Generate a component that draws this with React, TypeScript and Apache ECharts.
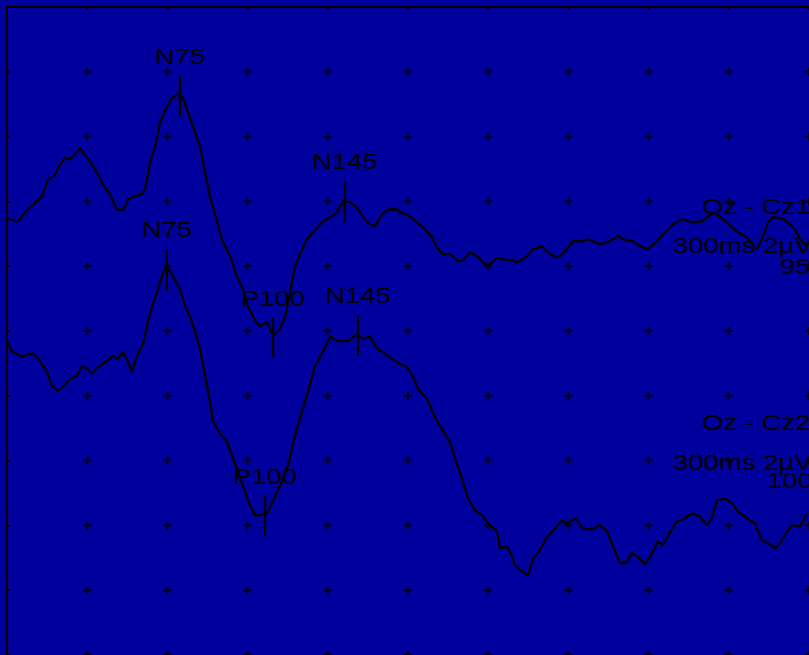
import React, { useEffect, useRef } from "react";
import * as echarts from "echarts";

// Time axis (ms) and amplitude axis (µV), 10 divisions each
const timeTicks = [0, 30, 60, 90, 120, 150, 180, 210, 240, 270, 300];
const gridTimes = [30, 60, 90, 120, 150, 180, 210, 240, 270, 300];
const gridAmps = [-10, -8, -6, -4, -2, 0, 2, 4, 6, 8];

// Trace 1 : Oz - Cz1
const trace1Time = [0, 1.1, 3.7, 4.9, 6.7, 8.6, 11.2, 13.1, 15.0, 18.0, 19.1, 21.7, 23.6, 27.3, 30.3, 33.7, 35.9, 38.5, 41.1, 43.4, 45.3, 47.1, 50.5, 51.6, 53.5, 55.4, 57.2, 59.8, 61.7, 63.6, 65.8, 67.7, 69.6, 72.2, 74.1, 75.9, 77.8, 80.4, 83.4, 86.0, 88.3, 90.1, 92.8, 94.6, 97.3, 99.5, 102.1, 104.0, 105.9, 107.7, 109.6, 112.2, 114.5, 117.8, 120.8, 123.4, 125.7, 128.3, 130.9, 133.2, 135.8, 137.7, 140.3, 142.5, 146.3, 147.0, 149.6, 151.9, 155.6, 159.0, 160.8, 163.1, 165.7, 168.7, 170.6, 173.2, 175.8, 178.1, 179.9, 183.3, 185.5, 188.9, 191.1, 194.5, 196.8, 200.1, 202.4, 205.0, 206.9, 209.5, 211.7, 215.1, 217.3, 221.8, 225.6, 228.5, 230.4, 234.2, 236.0, 239.8, 243.1, 245.4, 248.0, 249.9, 252.9, 256.2, 260.0, 262.2, 264.8, 267.8, 271.2, 273.4, 276.8, 280.5, 282.8, 284.7, 286.5, 289.9, 292.1, 294.8, 296.6, 299.3];
const trace1Amp = [3.51, 3.45, 3.38, 3.45, 3.66, 3.82, 4.0, 4.15, 4.62, 4.83, 5.05, 5.35, 5.29, 5.63, 5.32, 4.89, 4.52, 4.22, 3.75, 3.72, 4.06, 4.15, 4.22, 4.37, 5.2, 5.69, 6.43, 6.92, 7.2, 7.29, 7.2, 6.74, 6.31, 5.69, 4.89, 4.15, 3.6, 2.83, 2.31, 1.69, 1.29, 0.77, 0.31, 0.15, 0.28, -0.15, 0.06, 0.43, 1.2, 2.0, 2.37, 2.83, 3.05, 3.35, 3.51, 3.66, 4.0, 3.97, 3.82, 3.51, 3.29, 3.23, 3.6, 3.75, 3.75, 3.66, 3.6, 3.45, 3.2, 2.89, 2.58, 2.37, 2.37, 2.15, 2.18, 2.43, 2.31, 2.12, 2.0, 2.25, 2.22, 2.18, 2.12, 2.31, 2.52, 2.62, 2.43, 2.28, 2.31, 2.52, 2.77, 2.77, 2.83, 2.68, 2.77, 2.95, 2.83, 2.77, 2.65, 2.52, 2.77, 2.98, 3.2, 3.35, 3.45, 3.35, 3.38, 3.54, 3.66, 3.45, 3.2, 3.05, 2.89, 2.52, 2.92, 3.35, 3.51, 3.48, 3.35, 3.14, 2.83, 2.62];

// Trace 2 : Oz - Cz2
const trace2Time = [0, 2.2, 5.6, 7.9, 9.7, 11.2, 13.1, 15.0, 16.8, 19.1, 20.9, 23.6, 26.2, 28.1, 29.9, 31.8, 34.0, 37.4, 39.7, 41.5, 43.4, 45.3, 46.8, 48.6, 50.9, 52.7, 54.6, 56.5, 58.4, 59.8, 62.1, 64.7, 66.6, 68.5, 70.3, 72.2, 74.1, 75.9, 77.1, 79.7, 82.3, 84.2, 86.4, 89.0, 90.9, 92.8, 94.6, 97.3, 99.5, 102.1, 105.1, 107.7, 110.3, 112.6, 115.2, 117.8, 120.8, 123.8, 127.6, 130.9, 133.2, 135.8, 138.4, 140.6, 144.0, 147.0, 149.6, 151.9, 153.7, 157.1, 159.0, 160.8, 163.1, 165.7, 167.6, 170.2, 172.4, 175.1, 177.7, 179.9, 183.3, 184.4, 187.0, 188.9, 190.0, 191.9, 194.9, 196.8, 199.4, 202.0, 204.2, 207.6, 209.5, 212.5, 215.5, 218.8, 221.8, 224.4, 226.7, 229.3, 231.9, 233.8, 235.7, 238.7, 241.3, 243.5, 245.4, 247.3, 250.6, 253.6, 256.2, 259.2, 261.8, 263.7, 265.6, 268.6, 271.2, 273.4, 276.8, 279.8, 282.4, 284.7, 287.3, 289.2, 291.8, 294.0, 296.6, 299.3];
const trace2Amp = [-0.34, -0.65, -0.8, -0.71, -0.71, -0.8, -1.02, -1.26, -1.69, -1.85, -1.72, -1.48, -1.38, -1.08, -1.17, -1.32, -1.11, -0.92, -0.77, -0.86, -0.65, -0.95, -1.26, -0.77, -0.4, 0.28, 0.83, 1.29, 1.82, 1.97, 1.69, 1.29, 0.77, 0.43, 0.0, -0.55, -1.38, -2.18, -2.8, -3.17, -3.42, -3.85, -4.34, -4.95, -5.38, -5.69, -5.69, -5.63, -5.26, -4.77, -4.15, -3.23, -2.49, -1.88, -1.08, -0.71, -0.18, -0.31, -0.31, -0.09, -0.25, -0.18, -0.55, -0.65, -0.86, -1.02, -1.11, -1.42, -1.78, -2.09, -2.46, -2.77, -3.08, -3.42, -3.94, -4.55, -5.17, -5.54, -5.69, -5.94, -6.18, -6.71, -6.65, -6.95, -7.23, -7.38, -7.54, -7.02, -6.77, -6.34, -6.18, -5.85, -5.94, -5.78, -6.09, -6.12, -6.0, -6.18, -6.65, -7.17, -7.14, -6.86, -6.95, -7.2, -6.86, -6.49, -6.62, -6.31, -5.88, -5.78, -5.63, -5.72, -6.0, -5.78, -5.23, -5.17, -5.32, -5.57, -5.78, -5.94, -6.46, -6.55, -6.71, -6.55, -6.18, -6.0, -6.03, -5.63];

// Peak markers (latency in ms, marker top / bottom in µV)
const markerNames = ["N75", "P100", "N145", "N75", "P100", "N145"];
const markerTimes = [64.7, 99.5, 126.4, 59.8, 96.5, 131.3];
const markerTops = [7.88, 0.4, 4.62, 2.52, -5.08, 0.49];
const markerBottoms = [6.62, -0.83, 3.35, 1.23, -6.31, -0.77];

// Channel annotation texts
const channelTexts = ["Oz - Cz1", "300ms 2µV", "95", "Oz - Cz2", "300ms 2µV", "100"];

const FONT = '22px "Liberation Sans", Arial, sans-serif';
const BG = "#00009c";

export default function App() {
  const ref = useRef<HTMLDivElement>(null);

  useEffect(() => {
    document.body.style.margin = "0";
    document.body.style.overflow = "hidden";
    if (!ref.current) return;
    const chart = echarts.init(ref.current, null, { renderer: "svg" });

    const gridPoints: number[][] = [];
    gridTimes.forEach((t) => gridAmps.forEach((a) => gridPoints.push([t, a])));

    const textPos = [
      [702, 206],
      [673, 245],
      [780, 266],
      [702, 422],
      [673, 462],
      [767, 480],
    ];

    const axisCommon = {
      type: "value" as const,
      axisLine: { show: true, onZero: false, lineStyle: { color: "#000", width: 2 } },
      axisTick: { show: true, inside: true, length: 3, lineStyle: { color: "#000", width: 2 } },
      axisLabel: { show: false },
      splitLine: { show: false },
    };

    chart.setOption({
      animation: false,
      backgroundColor: BG,
      grid: { left: 7, top: 7, width: 802, height: 650 },
      xAxis: { ...axisCommon, position: "top", min: timeTicks[0], max: timeTicks[timeTicks.length - 1], interval: 30 },
      yAxis: { ...axisCommon, position: "left", min: -10, max: 10, interval: 2 },
      graphic: channelTexts.map((t, i) => ({
        type: "text",
        x: textPos[i][0],
        y: textPos[i][1],
        scaleX: 1.25,
        silent: true,
        style: {
          text: t,
          fill: "#000",
          font: FONT,
          align: "left",
          verticalAlign: "middle",
          textAlign: "left",
          textVerticalAlign: "middle",
        },
      })),
      series: [
        {
          type: "scatter",
          data: gridPoints,
          symbol: "path://M3,0H5V3H8V5H5V8H3V5H0V3H3Z",
          symbolSize: 8,
          itemStyle: { color: "#000" },
          silent: true,
          z: 1,
        },
        {
          type: "line",
          data: trace1Time.map((t, i) => [t, trace1Amp[i]]),
          showSymbol: false,
          symbol: "none",
          lineStyle: { color: "#000", width: 2.3 },
          silent: true,
          z: 3,
        },
        {
          type: "line",
          data: trace2Time.map((t, i) => [t, trace2Amp[i]]),
          showSymbol: false,
          symbol: "none",
          lineStyle: { color: "#000", width: 2.3 },
          silent: true,
          z: 3,
        },
        {
          type: "custom",
          data: markerTimes.map((t, i) => [t, markerTops[i], markerBottoms[i]]),
          encode: { x: 0, y: [1, 2] },
          silent: true,
          z: 5,
          renderItem: (params: any, api: any) => {
            const top = api.coord([api.value(0), api.value(1)]);
            const bot = api.coord([api.value(0), api.value(2)]);
            return {
              type: "group",
              children: [
                {
                  type: "line",
                  shape: { x1: top[0], y1: top[1], x2: bot[0], y2: bot[1] },
                  style: { stroke: "#000", lineWidth: 2.3 },
                },
                {
                  type: "text",
                  x: top[0],
                  y: top[1] - 20,
                  scaleX: 1.25,
                  style: {
                    text: markerNames[params.dataIndex],
                    fill: "#000",
                    font: FONT,
                    align: "center",
                    verticalAlign: "middle",
                    textAlign: "center",
                    textVerticalAlign: "middle",
                  },
                },
              ],
            };
          },
        },
      ],
    });

    return () => chart.dispose();
  }, []);

  return (
    <div
      ref={ref}
      style={{ position: "fixed", left: 0, top: 0, width: 809, height: 655 }}
    />
  );
}
